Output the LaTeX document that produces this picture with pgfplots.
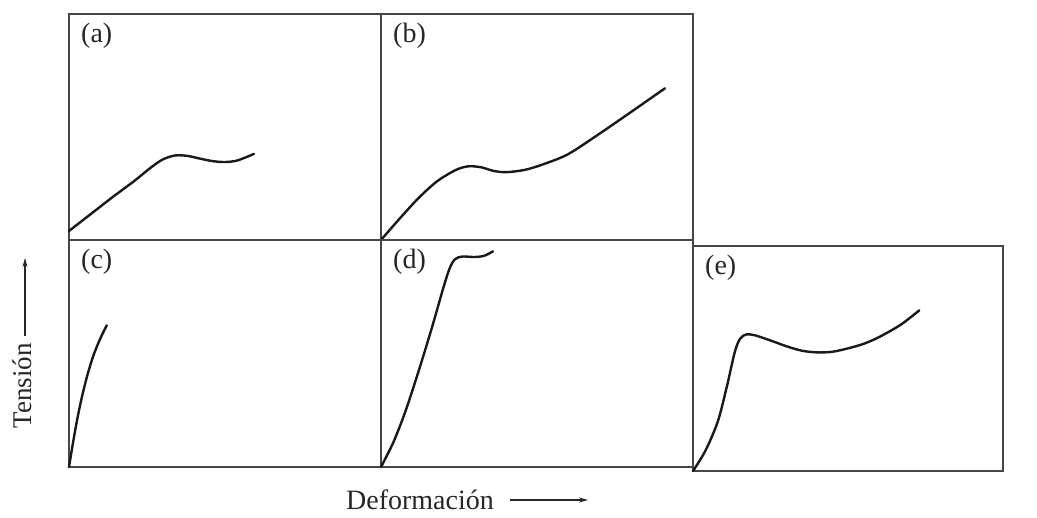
\documentclass[border=0pt]{standalone}
\usepackage{pgfplots}
\pgfplotsset{compat=1.18}
\usepackage{fontspec}
\setmainfont{Liberation Serif}
\usetikzlibrary{arrows.meta}
\pgfplotsset{
  panel/.style={scale only axis, anchor=south west,
    xmin=0, xmax=1, ymin=0, ymax=1,
    xtick=\empty, ytick=\empty,
    axis line style={draw=black!72, line width=1.3pt},
    clip=false},
  curve/.style={black!90, line width=2.4pt, smooth, mark=none, tension=0.5, line cap=round, line join=round},
}
\newcommand{\plab}[1]{\node[anchor=north west, inner sep=0pt, text=black!85,
  font=\fontsize{28}{32}\selectfont] at ([xshift=12pt,yshift=-9pt]rel axis cs:0,1) {#1};}
\begin{document}
\begin{tikzpicture}
\path[use as bounding box] (0pt,0pt) rectangle (1037pt,518pt);
\fill[white] (0pt,0pt) rectangle (1037pt,518pt);

% (a)
\begin{axis}[panel, at={(69pt,278pt)}, width=312pt, height=226pt]
\addplot[curve] coordinates {(0,0.04) (0.07,0.115) (0.14,0.19) (0.21,0.262) (0.26,0.318) (0.30,0.356) (0.34,0.374) (0.38,0.372) (0.42,0.36) (0.46,0.349) (0.50,0.345) (0.54,0.352) (0.593,0.381)};
\plab{(a)}
\end{axis}

% (b)
\begin{axis}[panel, at={(381pt,278pt)}, width=312pt, height=226pt]
\addplot[curve] coordinates {(0,0) (0.06,0.095) (0.12,0.185) (0.18,0.26) (0.24,0.31) (0.28,0.326) (0.32,0.322) (0.36,0.306) (0.40,0.30) (0.46,0.31) (0.52,0.335) (0.6,0.38) (0.7,0.47) (0.8,0.565) (0.91,0.671)};
\plab{(b)}
\end{axis}

% (c)
\begin{axis}[panel, at={(69pt,51pt)}, width=312pt, height=227pt]
\addplot[curve] coordinates {(0,0) (0.012,0.1) (0.025,0.2) (0.04,0.3) (0.058,0.4) (0.078,0.49) (0.1,0.565) (0.121,0.624)};
\plab{(c)}
\end{axis}

% (d)
\begin{axis}[panel, at={(381pt,51pt)}, width=312pt, height=227pt]
\addplot[curve] coordinates {(0,0) (0.04,0.11) (0.078,0.244) (0.12,0.42) (0.163,0.613) (0.2,0.79) (0.22,0.875) (0.237,0.915) (0.26,0.927) (0.3,0.925) (0.33,0.93) (0.359,0.95)};
\plab{(d)}
\end{axis}

% (e)
\begin{axis}[panel, at={(693pt,47pt)}, width=310pt, height=225pt]
\addplot[curve] coordinates {(0,0) (0.04,0.09) (0.08,0.22) (0.11,0.38) (0.135,0.53) (0.152,0.588) (0.172,0.607) (0.2,0.603) (0.25,0.58) (0.3,0.555) (0.35,0.535) (0.4,0.527) (0.45,0.53) (0.5,0.545) (0.55,0.565) (0.6,0.595) (0.67,0.65) (0.73,0.714)};
\plab{(e)}
\end{axis}

% axis titles
\node[rotate=90, anchor=base, text=black!85, font=\fontsize{27}{32}\selectfont] at (31pt,132pt) {Tensión};
\draw[black!85, line width=1.1pt, -{Stealth[length=9pt,width=5pt]}] (25pt,182pt) -- (25pt,260pt);
\node[anchor=base, text=black!85, font=\fontsize{28}{32}\selectfont] at (420pt,8pt) {Deformación};
\draw[black!85, line width=1.1pt, -{Stealth[length=9pt,width=5pt]}] (510pt,18pt) -- (588pt,18pt);
\end{tikzpicture}
\end{document}
